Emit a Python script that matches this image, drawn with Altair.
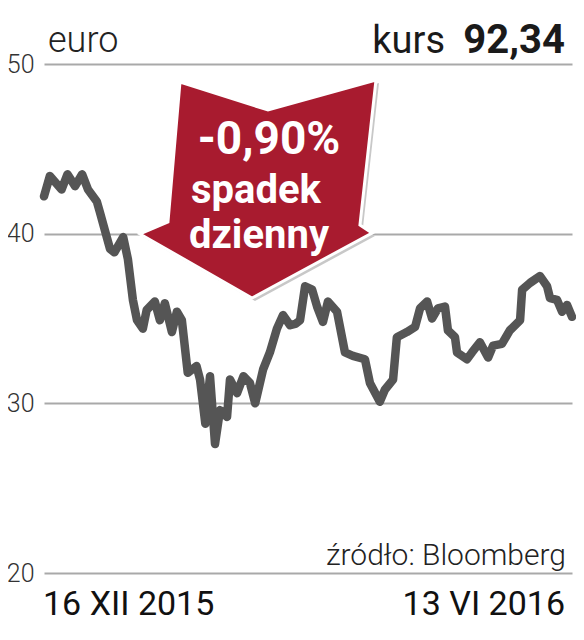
import altair as alt
import pandas as pd

# --- data (day offset from 16 XII 2015, EUR value) ---
days = [0, 2, 6, 8, 10.6, 13, 15, 18, 19, 22.5, 24, 27, 28.6, 30.3, 31.7, 33.7, 35, 37.8,
        39.5, 41.2, 43.6, 45.3, 47, 49, 52, 53.2, 55, 56.6, 58.3, 60, 62.4, 63.4, 65.8,
        68, 70.2, 72, 74.7, 77, 79.4, 81.5, 83.9, 85.9, 87.3, 89, 91.4, 93.1, 95.1, 96.8,
        99.9, 102.6, 105.3, 109.4, 111.1, 114.5, 116.2, 119, 120.3, 123.7, 126.5, 128.2,
        130.6, 132.3, 134.3, 136.7, 137.7, 140.1, 140.8, 144.2, 145.9, 148.6, 151.4, 153.1,
        156.1, 158.8, 162.3, 163, 165.7, 169.1, 171.5, 172.5, 174.9, 176.6, 178.3, 180]
values = [42.2, 43.4, 42.6, 43.5, 42.8, 43.5, 42.6, 41.9, 41.3, 39.1, 38.9, 39.8, 38.5, 36.1,
          34.9, 34.4, 35.5, 36.0, 34.9, 35.9, 34.2, 35.4, 34.9, 31.8, 32.2, 31.4, 28.8, 31.6,
          27.6, 29.6, 29.2, 31.4, 30.6, 31.6, 31.2, 30.0, 32.0, 33.0, 34.4, 35.2, 34.6, 34.7,
          34.9, 36.9, 36.7, 35.7, 34.8, 36.0, 35.4, 33.0, 32.8, 32.6, 31.2, 30.1, 30.8, 31.4,
          33.9, 34.2, 34.5, 35.6, 36.0, 35.0, 35.6, 35.7, 34.3, 33.9, 33.0, 32.6, 33.0, 33.6,
          32.7, 33.4, 33.5, 34.3, 34.9, 36.7, 37.1, 37.5, 36.9, 36.2, 36.1, 35.4, 35.8, 35.1]
y_ticks = [20, 30, 40, 50]
start_label = "16 XII 2015"
end_label = "13 VI 2016"
title_left = "euro"
kurs_label = "kurs"
kurs_value = "92,34"
change_label = "-0,90%"
change_words = ["spadek", "dzienny"]
source_label = "źródło: Bloomberg"

df = pd.DataFrame({"day": days, "value": values})

W, H = 528, 509
FONT = "Roboto"
RED = "#a81b2f"
LINE = "#555555"

x_scale = alt.Scale(domain=[0, 180], nice=False, zero=False)
y_scale = alt.Scale(domain=[20, 50], nice=False, zero=False)

base = alt.Chart(df)

line = base.mark_line(color=LINE, strokeWidth=8.5, strokeJoin="round", strokeCap="round").encode(
    x=alt.X("day:Q", scale=x_scale, axis=None),
    y=alt.Y(
        "value:Q",
        scale=y_scale,
        axis=alt.Axis(
            values=y_ticks,
            title=None,
            grid=True,
            gridColor="#a9a9a9",
            gridWidth=2,
            domain=False,
            ticks=False,
            labelFont=FONT,
            labelFontSize=25,
            labelFontWeight=300,
            labelColor="#333333",
            labelPadding=10,
            labelBaseline="middle",
        ),
    ),
)

one = alt.InlineData(values=[{"k": 0}])

ARROW = ("M -0.661 -0.907 L 0.085 -0.669 L 1 -0.924 L 0.864 0.305 L 0.966 0.373 "
         "L -0.051 0.924 L -1 0.381 L -0.763 0.28 Z")
ASIZE = 236 * 236

shadow = alt.Chart(one).mark_point(
    shape=ARROW, size=ASIZE, filled=True, color="#c8c8c8", opacity=1, strokeWidth=0
).encode(x=alt.value(217), y=alt.value(128))

arrow = alt.Chart(one).mark_point(
    shape=ARROW, size=ASIZE, filled=True, color=RED, opacity=1,
    stroke="white", strokeWidth=3
).encode(x=alt.value(214), y=alt.value(125))


def txt(text, x, y, size, weight="normal", color="#1a1a1a", align="left"):
    return alt.Chart(one).mark_text(
        align=align, baseline="alphabetic", font=FONT, fontSize=size,
        fontWeight=weight, color=color
    ).encode(x=alt.value(x), y=alt.value(y), text=alt.value(text))


texts = [
    txt(title_left, 4, -12, 36, 300, "#222222"),
    txt(kurs_value, 521, -11, 40, "bold", "#1a1a1a", "right"),
    txt(kurs_label, 401, -11, 38, "normal", "#1a1a1a", "right"),
    txt(start_label, -1, 551, 34, "normal", "#111111"),
    txt(end_label, 521, 551, 34, "normal", "#111111", "right"),
    txt(source_label, 522, 501, 30, 300, "#222222", "right"),
    txt(change_label, 225, 90, 46, "bold", "white", "center"),
    txt(change_words[0], 212, 139, 40, "bold", "white", "center"),
    txt(change_words[1], 215, 184, 40, "bold", "white", "center"),
]

chart = alt.layer(line, shadow, arrow, *texts).properties(
    width=W,
    height=H,
    padding={"left": 36, "top": 56, "right": 4, "bottom": 60},
    autosize="none",
    background="white",
).configure_view(stroke=None)

chart.save("out.html", embed_options={"renderer": "svg", "actions": False})
